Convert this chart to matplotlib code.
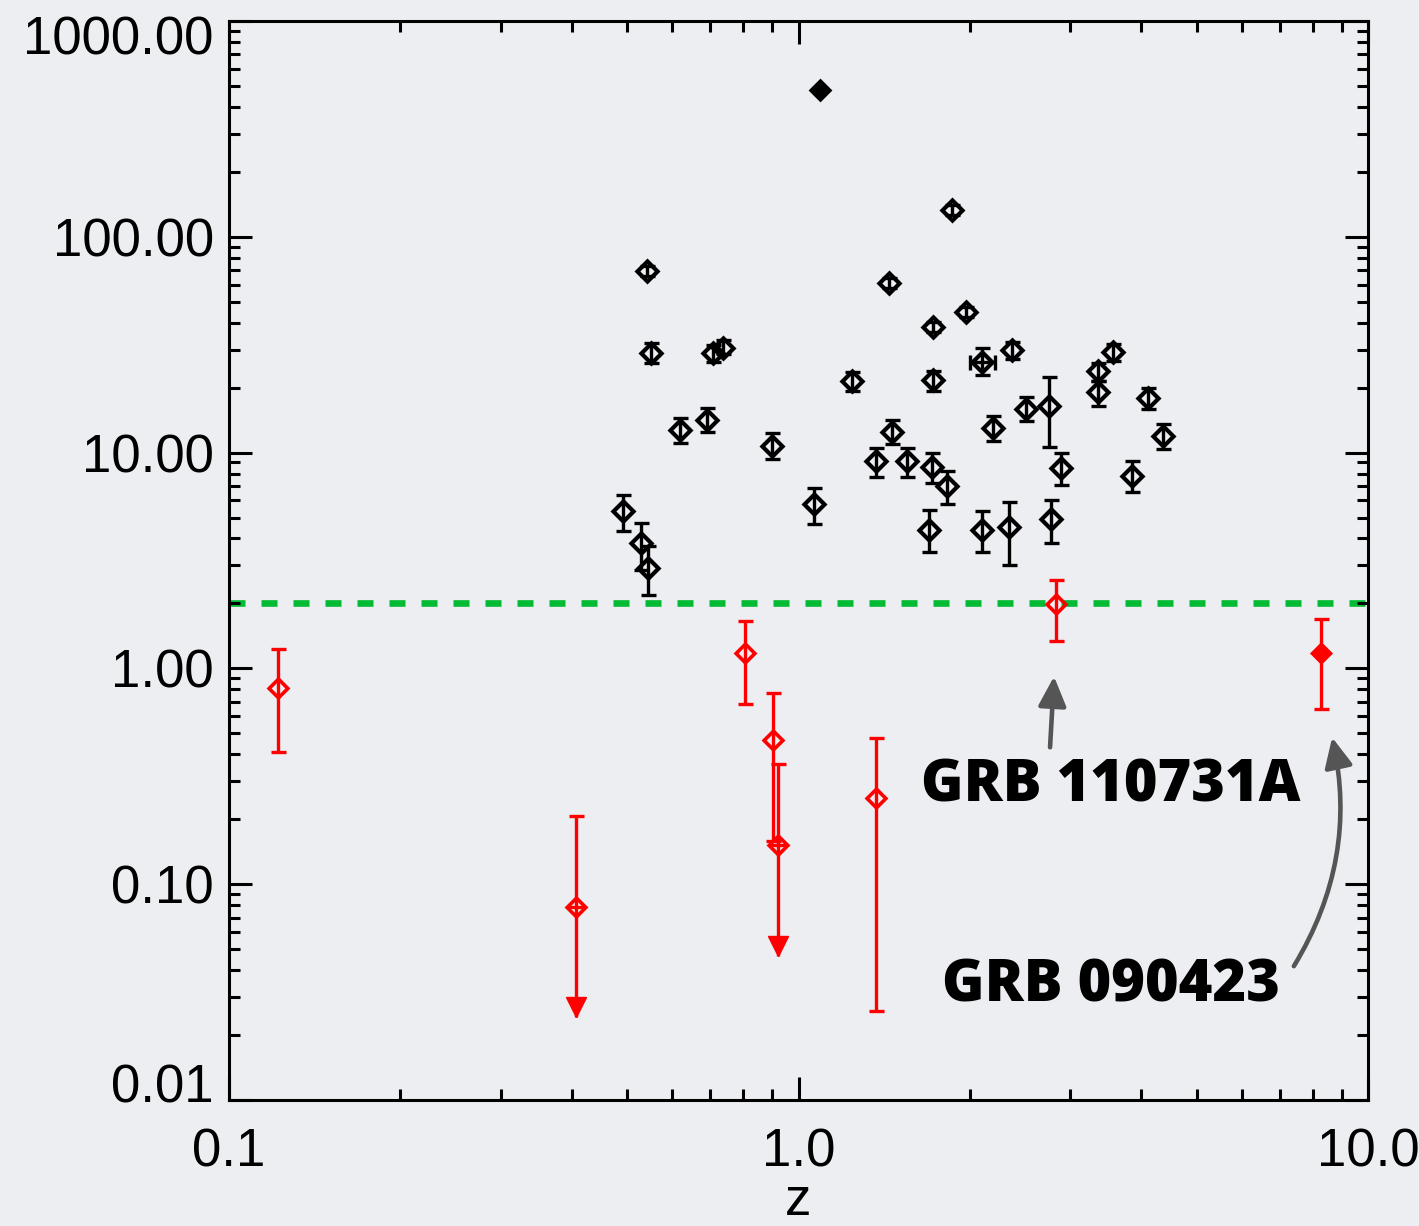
import numpy as np
import matplotlib
matplotlib.use("Agg")
import matplotlib.pyplot as plt
from matplotlib.ticker import FixedLocator, LogLocator, FormatStrFormatter, NullFormatter
from matplotlib.transforms import ScaledTranslation
from matplotlib.patches import ArrowStyle

# ---------------- data ----------------
# black open diamonds: redshift, value, lower bound, upper bound
black_z  = [0.541, 0.550, 0.708, 0.738, 0.619, 0.690, 0.897, 0.491, 0.530, 0.545,
            1.858, 1.441, 1.968, 1.724, 1.240, 1.724, 2.373, 2.509, 2.198, 1.457,
            1.368, 1.549, 1.713, 1.820, 1.065, 1.695, 2.102, 2.342, 2.756, 2.890,
            2.772, 3.353, 3.360, 3.571, 4.113, 4.360, 3.856]
black_y  = [69.1, 28.9, 29.0, 30.5, 12.7, 14.2, 10.7, 5.35, 3.82, 2.92,
            133.4, 61.1, 44.7, 38.3, 21.45, 21.7, 30.0, 15.93, 13.07, 12.44,
            9.11, 9.11, 8.61, 6.97, 5.77, 4.39, 4.39, 4.50, 16.51, 8.50,
            4.93, 23.8, 19.02, 29.1, 17.9, 11.99, 7.83]
black_lo = [65.5, 26.1, 26.2, 28.5, 11.1, 12.4, 9.3, 4.31, 2.87, 2.18,
            126.5, 57.9, 42.4, 36.3, 19.2, 19.3, 27.2, 14.06, 11.36, 11.0,
            7.74, 7.74, 7.26, 5.77, 4.69, 3.45, 3.47, 3.03, 10.58, 7.06,
            3.83, 21.5, 16.39, 26.45, 16.0, 10.43, 6.58]
black_hi = [72.9, 32.3, 31.5, 33.3, 14.4, 16.1, 12.3, 6.39, 4.74, 3.71,
            140.7, 64.4, 47.2, 40.4, 23.6, 24.0, 32.6, 18.03, 14.77, 14.1,
            10.55, 10.55, 10.0, 8.25, 6.89, 5.41, 5.35, 5.93, 22.4, 9.97,
            6.06, 26.1, 21.4, 31.7, 20.0, 13.63, 9.12]

# black point with error in both axes
bx_z, bx_zlo, bx_zhi = [2.097], [2.001], [2.213]
bx_y, bx_ylo, bx_yhi = [26.4], [22.97], [30.4]

# black filled diamond
bf_z, bf_y = [1.091], [477.0]

# red open diamonds
red_z  = [0.122, 0.804, 0.901, 1.370, 2.833]
red_y  = [0.814, 1.173, 0.464, 0.252, 1.978]
red_lo = [0.412, 0.681, 0.1587, 0.0259, 1.338]
red_hi = [1.225, 1.655, 0.772, 0.478, 2.58]

# red filled diamond (GRB 090423)
rf_z, rf_y, rf_lo, rf_hi = [8.27], [1.182], [0.651], [1.70]

# red upper limits: value, upper cap, arrow tip
ul_z   = [0.921, 0.407]
ul_y   = [0.152, 0.0788]
ul_hi  = [0.359, 0.206]
ul_tip = [0.0466, 0.0242]

threshold = 2.0

xticks = [0.1, 1.0, 10.0]
yticks = [0.01, 0.1, 1.0, 10.0, 100.0, 1000.0]

ann_labels = ["GRB 110731A", "GRB 090423"]
ann_text_xy = [(3.54, 0.284), (3.54, 0.0337)]
ann_tail_xy = [(2.765, 0.431), (7.41, 0.0417)]
ann_head_xy = [(2.81, 0.918), (8.65, 0.479)]
ann_rad = [0.0, 0.2]

# ---------------- figure ----------------
BG = "#eceef1"
W, H = 1419, 1226
fig = plt.figure(figsize=(W / 100, H / 100), dpi=100, facecolor=BG)
ax = fig.add_axes([229 / W, (H - 1100) / H, (1368 - 229) / W, (1100 - 21) / H])
ax.set_facecolor(BG)
ax.set_xscale("log")
ax.set_yscale("log")
ax.set_xlim(0.1, 10.0)
ax.set_ylim(0.01, 1000.0)

lw = 2.4
cap = 5.4
dmark = (4, 0, 0)

# threshold line
ax.axhline(threshold, color="#00bb33", lw=4.8, dashes=(2.4, 2.4), zorder=1)

def yerr(y, lo, hi):
    y, lo, hi = map(np.asarray, (y, lo, hi))
    return np.vstack([y - lo, hi - y])

# black points
ax.errorbar(black_z, black_y, yerr=yerr(black_y, black_lo, black_hi), fmt="none",
            ecolor="black", elinewidth=lw, capsize=cap, capthick=lw, zorder=3)
ax.plot(black_z, black_y, linestyle="none", marker=dmark, ms=14.5, mfc="none",
        mec="black", mew=3.0, zorder=4)

ax.errorbar(bx_z, bx_y, yerr=yerr(bx_y, bx_ylo, bx_yhi), xerr=yerr(bx_z, bx_zlo, bx_zhi),
            fmt="none", ecolor="black", elinewidth=lw, capsize=cap, capthick=lw, zorder=3)
ax.plot(bx_z, bx_y, linestyle="none", marker=dmark, ms=14.5, mfc="none",
        mec="black", mew=3.0, zorder=4)

ax.plot(bf_z, bf_y, linestyle="none", marker=dmark, ms=15, mfc="black",
        mec="black", mew=1.5, zorder=4)

# red points
RED = "#ff0000"
ax.errorbar(red_z, red_y, yerr=yerr(red_y, red_lo, red_hi), fmt="none",
            ecolor=RED, elinewidth=lw, capsize=cap, capthick=lw, zorder=3)
ax.plot(red_z, red_y, linestyle="none", marker=dmark, ms=13.5, mfc="none",
        mec=RED, mew=2.6, zorder=4)

ax.errorbar(rf_z, rf_y, yerr=yerr(rf_y, rf_lo, rf_hi), fmt="none",
            ecolor=RED, elinewidth=lw, capsize=cap, capthick=lw, zorder=3)
ax.plot(rf_z, rf_y, linestyle="none", marker=dmark, ms=14.5, mfc=RED,
        mec=RED, mew=1.5, zorder=4)

# upper limits
ul_y_a, ul_hi_a = np.asarray(ul_y), np.asarray(ul_hi)
ax.errorbar(ul_z, ul_y, yerr=np.vstack([np.zeros_like(ul_y_a), ul_hi_a - ul_y_a]),
            fmt="none", ecolor=RED, elinewidth=lw, capsize=cap, capthick=lw, zorder=3)
ax.vlines(ul_z, ul_tip, ul_y, color=RED, lw=lw, zorder=3)
tri_ms = 14.5
tri_trans = ax.transData + ScaledTranslation(0, tri_ms / 2 / 72, fig.dpi_scale_trans)
ax.plot(ul_z, ul_tip, linestyle="none", marker="v", ms=tri_ms, color=RED,
        mec=RED, transform=tri_trans, zorder=4)
ax.plot(ul_z, ul_y, linestyle="none", marker=dmark, ms=13.5, mfc="none",
        mec=RED, mew=2.6, zorder=4)

# annotations
astyle = ArrowStyle("-|>", head_length=1.8, head_width=0.85)
for lab, txy, tail, head, rad in zip(ann_labels, ann_text_xy, ann_tail_xy, ann_head_xy, ann_rad):
    ax.text(txy[0], txy[1], lab, ha="center", va="center", fontsize=41.5,
            fontweight=800, family=["Open Sans", "DejaVu Sans"], color="black", zorder=5)
    ax.annotate("", xy=head, xytext=tail, xycoords="data", textcoords="data",
                arrowprops=dict(arrowstyle=astyle, mutation_scale=10, color="#555555",
                                lw=3.3, shrinkA=0, shrinkB=0,
                                connectionstyle=f"arc3,rad={rad}"), zorder=5)

# axes styling
for s in ax.spines.values():
    s.set_linewidth(2.2)
    s.set_color("black")

ax.xaxis.set_major_locator(FixedLocator(xticks))
ax.yaxis.set_major_locator(FixedLocator(yticks))
ax.xaxis.set_minor_locator(LogLocator(base=10, subs=np.arange(2, 10)))
ax.yaxis.set_minor_locator(LogLocator(base=10, subs=np.arange(2, 10)))
ax.xaxis.set_major_formatter(FormatStrFormatter("%.1f"))
ax.yaxis.set_major_formatter(FormatStrFormatter("%.2f"))
ax.xaxis.set_minor_formatter(NullFormatter())
ax.yaxis.set_minor_formatter(NullFormatter())

ax.tick_params(which="both", direction="in", top=True, right=True, color="black")
ax.tick_params(which="major", length=16.5, width=2.2)
ax.tick_params(which="minor", length=8.0, width=2.2)
ax.tick_params(axis="y", which="major", pad=11)
ax.tick_params(axis="x", which="major", pad=20)
for lbl in ax.get_xticklabels() + ax.get_yticklabels():
    lbl.set_fontfamily(["Liberation Sans", "DejaVu Sans"])
    lbl.set_fontsize(38)

ax.set_xlabel("z", fontsize=38, family=["Liberation Sans", "DejaVu Sans"], labelpad=-1)

# keep the outermost y labels inside the axis span, as in the reference
yt = ax.yaxis.get_major_ticks()
offsets = {0: 17, len(yt) - 1: -14}
for i, dy in offsets.items():
    lab = yt[i].label1
    lab.set_transform(lab.get_transform() + ScaledTranslation(0, dy / 100, fig.dpi_scale_trans))

fig.savefig("out.png", dpi=100, facecolor=BG)
